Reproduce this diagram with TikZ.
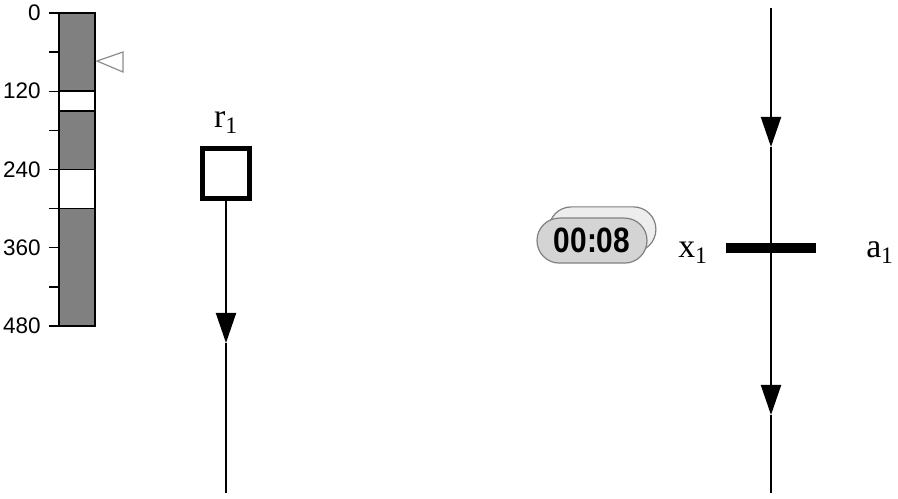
\documentclass[tikz,border=0pt]{standalone}
\usepackage{fontspec}
\setmainfont{Liberation Serif}
\newfontfamily\axisfont{Liberation Sans}
\newfontfamily\clockfont[FakeStretch=0.85]{Liberation Sans}
\usetikzlibrary{arrows.meta,positioning}

\tikzset{
  flow/.style={line width=0.5mm},
  tip/.style={-{Triangle[length=7.5mm,width=5mm]}},
  ticklabel/.style={anchor=east,inner sep=0,font=\axisfont\fontsize{16}{16}\selectfont},
  pill/.style={draw=black!50,line width=0.3mm,rounded corners=5.6mm,minimum width=27.5mm,minimum height=11.25mm,inner sep=0},
  var/.style={anchor=base,inner sep=0,font=\fontsize{24}{24}\selectfont}
}

\begin{document}
\begin{tikzpicture}
\useasboundingbox (0,0) rectangle (224.5mm,124.75mm);
% time scale
\fill[black!50] (14.75mm,43.25mm) rectangle (23.75mm,121.5mm);
\fill[white] (14.75mm,97.05mm) rectangle (23.75mm,101.94mm) (14.75mm,72.59mm) rectangle (23.75mm,82.38mm);
\draw[line width=0.4mm] (14.75mm,43.25mm) rectangle (23.75mm,121.5mm) (14.75mm,97.05mm) -- (23.75mm,97.05mm) (14.75mm,101.94mm) -- (23.75mm,101.94mm) (14.75mm,72.59mm) -- (23.75mm,72.59mm) (14.75mm,82.38mm) -- (23.75mm,82.38mm);
\draw[line width=0.35mm] (12.25mm,121.5mm) -- (14.75mm,121.5mm) (12.25mm,111.72mm) -- (14.75mm,111.72mm) (12.25mm,101.94mm) -- (14.75mm,101.94mm) (12.25mm,92.16mm) -- (14.75mm,92.16mm) (12.25mm,82.38mm) -- (14.75mm,82.38mm) (12.25mm,72.59mm) -- (14.75mm,72.59mm) (12.25mm,62.81mm) -- (14.75mm,62.81mm) (12.25mm,53.03mm) -- (14.75mm,53.03mm) (12.25mm,43.25mm) -- (14.75mm,43.25mm);
\node[ticklabel] (t0) at (10.25mm,121.5mm) {0};
\node[ticklabel] (t120) at (10.25mm,101.94mm) {120};
\node[ticklabel] (t240) at (10.25mm,82.38mm) {240};
\node[ticklabel] (t360) at (10.25mm,62.81mm) {360};
\node[ticklabel] (t480) at (10.25mm,43.25mm) {480};
\draw[black!45,fill=white,line width=0.3mm] (24.25mm,109.5mm) -- (30.75mm,111.75mm) -- (30.75mm,106.75mm) -- cycle;

% resource r1
\node[draw,line width=1.25mm,minimum width=11.75mm,minimum height=12.5mm,inner sep=0] (r1) at (56.5mm,81.25mm) {};
\node[var] (r1lab) at (56.5mm,92.75mm) {r\textsubscript{1}};
\coordinate (tipL) at (56.5mm,39mm);
\coordinate (botL) at (56.5mm,1.5mm);
\draw[flow,tip] (r1.south) -- (tipL);
\draw[flow] (tipL) -- (botL);

% clock
\node[pill,fill=black!7,minimum width=26.75mm] (clockback) at (150.6mm,67.4mm) {};
\node[pill,fill=black!17] (clock) at (148mm,64.6mm) {\clockfont\bfseries\fontsize{25}{25}\selectfont 00:08};

% transition x1
\coordinate (topR) at (192.75mm,122.75mm);
\coordinate (tipA) at (192.75mm,88mm);
\coordinate (tipB) at (192.75mm,21mm);
\coordinate (botR) at (192.75mm,1.5mm);
\node[fill=black,minimum width=22.5mm,minimum height=2.5mm,inner sep=0] (bar) at (192.75mm,62.75mm) {};
\draw[flow,tip] (topR) -- (tipA);
\draw[flow] (tipA) -- (bar.north);
\draw[flow,tip] (bar.south) -- (tipB);
\draw[flow] (tipB) -- (botR);
\node[var] (x1) at (173.25mm,60.25mm) {x\textsubscript{1}};
\node[var] (a1) at (220mm,60.25mm) {a\textsubscript{1}};
\end{tikzpicture}
\end{document}
